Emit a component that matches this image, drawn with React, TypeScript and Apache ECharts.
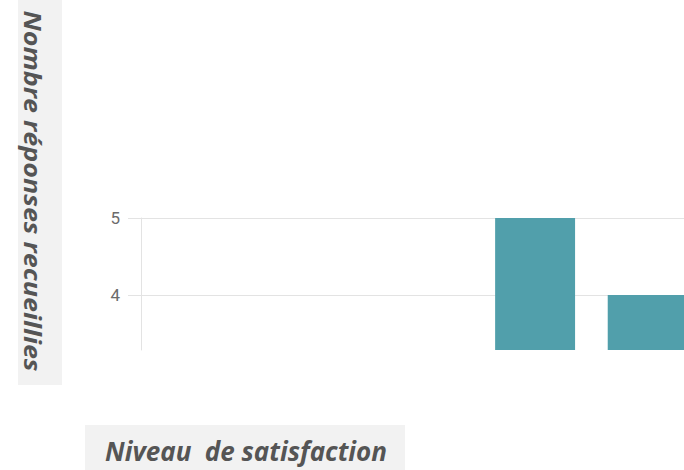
import React, { useEffect, useRef } from "react";
import * as echarts from "echarts";

const categories = ["1", "2", "3", "4", "5"];
const responses = [0, 0, 0, 5, 4];
const yTickValues = [4, 5];
const yMin = 3.2857;
const yMax = 5;
const yTitle = "Nombre réponses recueillies";
const xTitle = "Niveau  de satisfaction";

export default function App() {
  const ref = useRef<HTMLDivElement>(null);
  useEffect(() => {
    if (!ref.current) return;
    const chart = echarts.init(ref.current, null, { renderer: "svg" });
    const gridColor = "#e3e3e3";
    chart.setOption({
      animation: false,
      backgroundColor: "#ffffff",
      grid: {
        left: 141,
        top: 218,
        width: 563,
        height: 132,
        containLabel: false,
        outerBoundsMode: "none",
      },
      xAxis: {
        type: "category",
        data: categories,
        axisLine: { show: false },
        axisTick: { show: false },
        axisLabel: { show: false },
        splitLine: { show: false },
      },
      yAxis: {
        type: "value",
        min: yMin,
        max: yMax,
        axisLine: { show: true, lineStyle: { color: gridColor, width: 1 } },
        axisTick: { show: false },
        axisLabel: { show: false },
        splitLine: { show: false },
      },
      graphic: [
        {
          type: "rect",
          shape: { x: 18, y: 0, width: 44, height: 385 },
          style: { fill: "#f2f2f2" },
          z: 0,
        },
        {
          type: "text",
          x: 33,
          y: 191,
          rotation: -Math.PI / 2,
          scaleX: 1.12,
          style: {
            text: yTitle,
            font: "italic bold 24px 'Open Sans', sans-serif",
            fill: "#555555",
            textAlign: "center",
            textVerticalAlign: "middle",
          },
          z: 1,
        },
        {
          type: "rect",
          shape: { x: 85, y: 425, width: 320, height: 45 },
          style: { fill: "#f2f2f2" },
          z: 0,
        },
        {
          type: "text",
          x: 246,
          y: 451,
          style: {
            text: xTitle,
            font: "italic bold 26px 'Open Sans', sans-serif",
            lineHeight: 26,
            fill: "#555555",
            textAlign: "center",
            textVerticalAlign: "middle",
          },
          z: 1,
        },
      ],
      series: [
        {
          type: "bar",
          data: responses,
          barCategoryGap: "29%",
          itemStyle: { color: "#519fab" },
          clip: true,
          z: 3,
          markLine: {
            silent: true,
            symbol: ["none", "none"],
            z: 1,
            lineStyle: { color: gridColor, type: "solid", width: 1 },
            label: {
              show: true,
              position: "start",
              distance: 8,
              color: "#6b6b6b",
              fontSize: 17,
              fontFamily: "Roboto, Arial, sans-serif",
              formatter: "{b}",
            },
            data: yTickValues.map((v) => [
              { name: String(v), x: 128, yAxis: v },
              { x: 706, yAxis: v },
            ]),
          },
        },
      ],
    });
    return () => chart.dispose();
  }, []);
  return (
    <div
      ref={ref}
      style={{ position: "fixed", left: 0, top: 0, width: 684, height: 470 }}
    />
  );
}
